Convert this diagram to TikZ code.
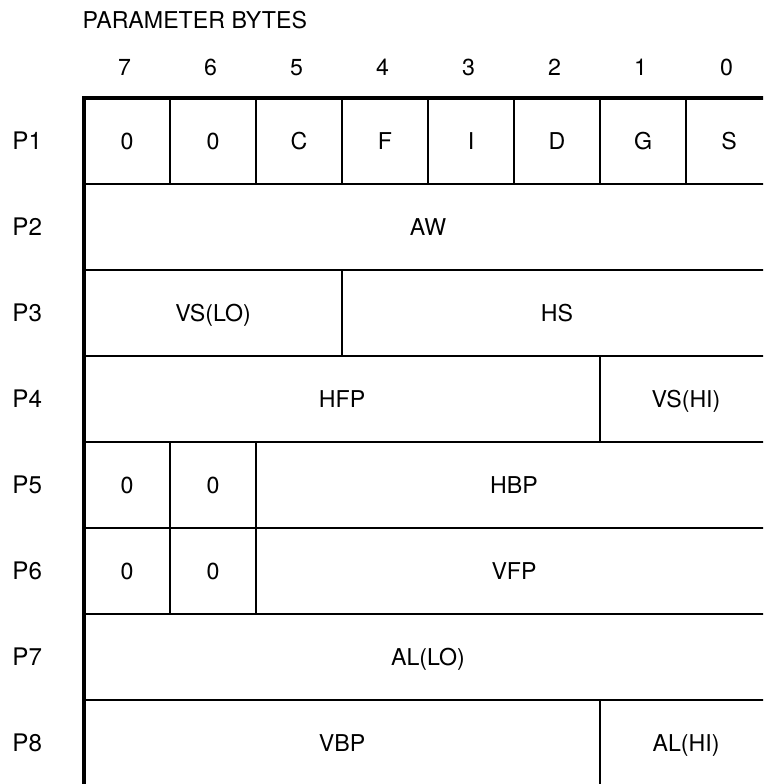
\documentclass[tikz,border=0pt]{standalone}
\usepackage{fontspec}
\setmainfont{TeX Gyre Heros}
\begin{document}
\begin{tikzpicture}[x=1.5cm, y=1.5cm,
  grid/.style={line width=1.4pt},
  frame/.style={line width=2.3pt, line cap=rect},
  lbl/.style={inner sep=0pt, anchor=base, yshift=-4.1pt, font=\fontsize{11.5}{13}\selectfont},
  rowlbl/.style={inner sep=0pt, anchor=base, yshift=-4.3pt, font=\fontsize{12}{14}\selectfont}]
  \clip (-0.977,1.140) rectangle (7.895,-7.976);

  % header
  \node[lbl, anchor=base west] (title) at (-0.02,0.907) {PARAMETER BYTES};
  \foreach \b in {0,...,7}
    \node[lbl] (bit\b) at (7.47-\b,0.36) {\b};

  % row lines and dividers
  \foreach \r in {1,...,8}
    \draw[grid] (0,-\r) -- (8,-\r);
  \draw[grid] (8,0) -- (8,-8);
  \foreach \x in {1,...,7}
    \draw[grid] (\x,0) -- (\x,-1);
  \draw[grid] (3,-2) -- (3,-3);
  \draw[grid] (6,-3) -- (6,-4);
  \draw[grid] (1,-4) -- (1,-6);
  \draw[grid] (2,-4) -- (2,-6);
  \draw[grid] (6,-7) -- (6,-8);
  \draw[frame] (0,-8) -- (0,0) -- (8,0);

  % row names
  \foreach \r in {1,...,8}
    \node[rowlbl] (p\r) at (-0.66,0.5-\r) {P\r};

  % fields
  \foreach \t [count=\i from 0] in {0,0,C,F,I,D,G,S}
    \node[lbl] (pone\i) at (\i+0.5,-0.5) {\t};
  \node[lbl] (aw) at (4,-1.5) {AW};
  \node[lbl] (vslo) at (1.5,-2.5) {VS(LO)};
  \node[lbl] (hs) at (5.5,-2.5) {HS};
  \node[lbl] (hfp) at (3,-3.5) {HFP};
  \node[lbl] (vshi) at (7,-3.5) {VS(HI)};
  \node[lbl] (pfivea) at (0.5,-4.5) {0};
  \node[lbl] (pfiveb) at (1.5,-4.5) {0};
  \node[lbl] (hbp) at (5,-4.5) {HBP};
  \node[lbl] (psixa) at (0.5,-5.5) {0};
  \node[lbl] (psixb) at (1.5,-5.5) {0};
  \node[lbl] (vfp) at (5,-5.5) {VFP};
  \node[lbl] (allo) at (4,-6.5) {AL(LO)};
  \node[lbl] (vbp) at (3,-7.5) {VBP};
  \node[lbl] (alhi) at (7,-7.5) {AL(HI)};
\end{tikzpicture}
\end{document}
